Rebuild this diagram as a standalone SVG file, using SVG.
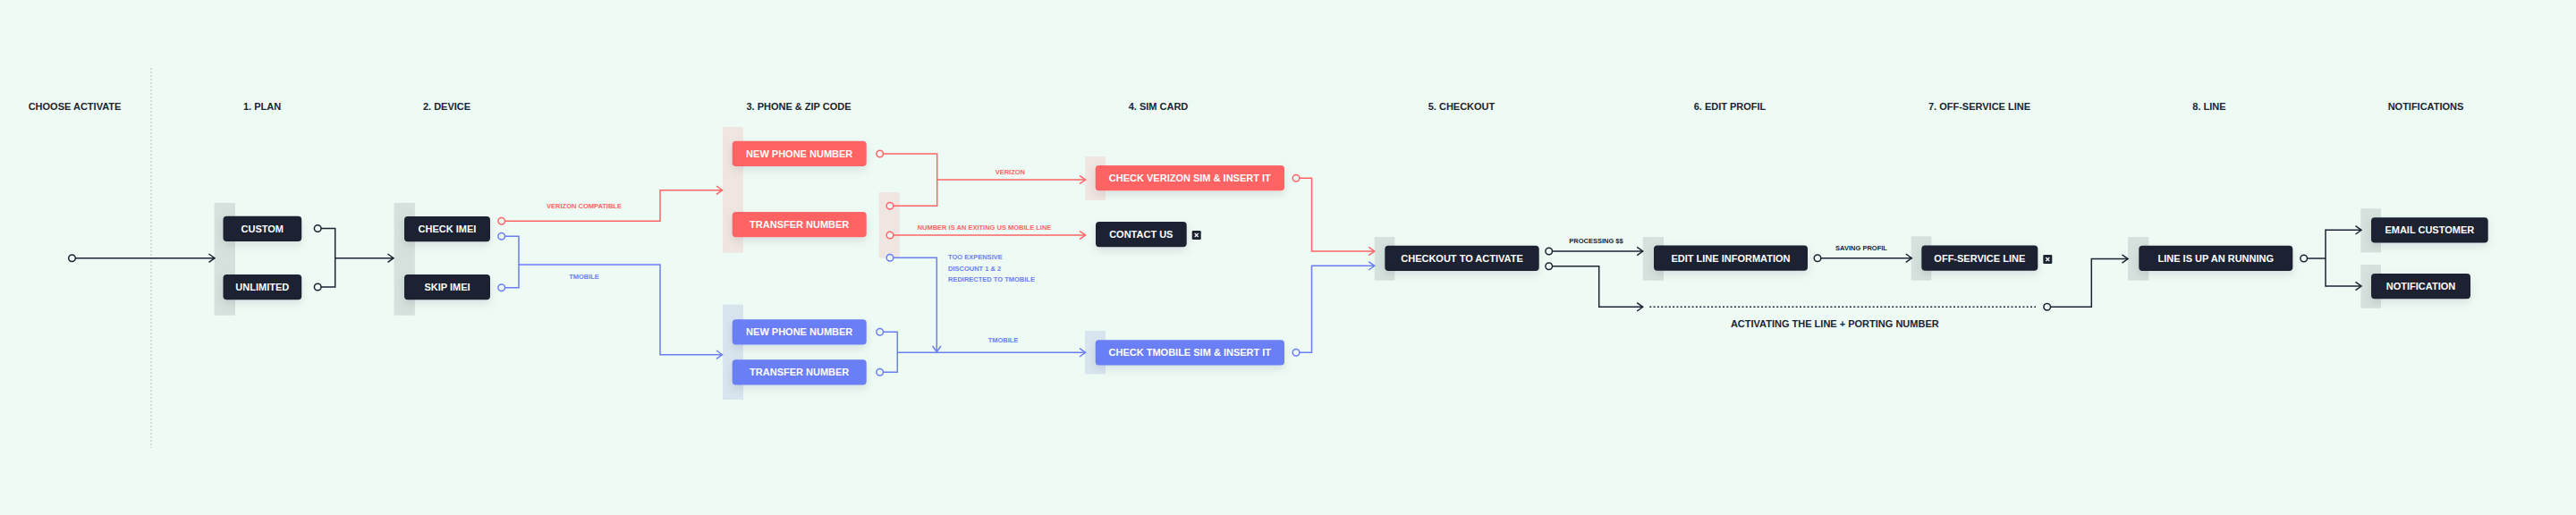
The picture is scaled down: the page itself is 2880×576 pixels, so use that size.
<svg xmlns="http://www.w3.org/2000/svg" width="2880" height="576" viewBox="0 0 2880 576">
<defs>
<style>
.hd{font-family:"Liberation Sans",Arial,sans-serif;font-weight:700;font-size:11px;fill:#1b2433;text-anchor:middle}
.bt{font-family:"Liberation Sans",Arial,sans-serif;font-weight:700;font-size:11px;fill:#ffffff;text-anchor:middle}
.lb{font-family:"Liberation Sans",Arial,sans-serif;font-weight:700;font-size:7.5px}
.lr{fill:#ff6464}.lbl{fill:#6b7ef5}.ld{fill:#1b2433}
.bar{fill:#d5e1dc}.barr{fill:#efe5e1}.barb{fill:#d8e4ee}
.dk{fill:#1b2433}.rd{fill:#ff6464}.bl{fill:#6b7ef5}
.c{fill:none;stroke-width:1.5;stroke-linejoin:miter}
.cd{stroke:#1b2433}.cr{stroke:#ff6464}.cb{stroke:#6b7ef5}
.dot{fill:#eefaf4;stroke-width:1.5}
</style>
<filter id="sh" x="-30%" y="-60%" width="160%" height="260%">
<feDropShadow dx="0" dy="4" stdDeviation="5" flood-color="#1b2433" flood-opacity="0.10"/>
</filter>
<marker id="ad" viewBox="0 0 10 12" refX="8.5" refY="6" markerWidth="10" markerHeight="12" markerUnits="userSpaceOnUse" orient="auto"><path d="M2,1.3 L8.5,6 L2,10.7" fill="none" stroke="#1b2433" stroke-width="1.5"/></marker>
<marker id="ar" viewBox="0 0 10 12" refX="8.5" refY="6" markerWidth="10" markerHeight="12" markerUnits="userSpaceOnUse" orient="auto"><path d="M2,1.3 L8.5,6 L2,10.7" fill="none" stroke="#ff6464" stroke-width="1.5"/></marker>
<marker id="ab" viewBox="0 0 10 12" refX="8.5" refY="6" markerWidth="10" markerHeight="12" markerUnits="userSpaceOnUse" orient="auto"><path d="M2,1.3 L8.5,6 L2,10.7" fill="none" stroke="#6b7ef5" stroke-width="1.5"/></marker>
</defs>
<rect x="0" y="0" width="2880" height="576" fill="#eefaf4"/>
<line x1="169" y1="76" x2="169" y2="501" stroke="#c6d3ce" stroke-width="1.5" stroke-dasharray="2 2"/>

<g id="headers">
<text class="hd" x="83.5" y="122.6">CHOOSE ACTIVATE</text>
<text class="hd" x="293" y="122.6">1. PLAN</text>
<text class="hd" x="499.5" y="122.6">2. DEVICE</text>
<text class="hd" x="893" y="122.6">3. PHONE &amp; ZIP CODE</text>
<text class="hd" x="1295" y="122.6">4. SIM CARD</text>
<text class="hd" x="1634" y="122.6">5. CHECKOUT</text>
<text class="hd" x="1934" y="122.6">6. EDIT PROFIL</text>
<text class="hd" x="2213" y="122.6">7. OFF-SERVICE LINE</text>
<text class="hd" x="2470" y="122.6">8. LINE</text>
<text class="hd" x="2712" y="122.6">NOTIFICATIONS</text>
</g>

<g id="start"><circle class="dot cd" cx="80.5" cy="288.7" r="3.8"/></g>

<g id="plan">
<rect class="bar" x="239.6" y="227" width="23.4" height="125.7"/>
<g id="custom"><rect class="dk" filter="url(#sh)" x="249.5" y="241.7" width="87.7" height="28.3" rx="4"/><text class="bt" x="293.3" y="259.8">CUSTOM</text></g>
<g id="unlimited"><rect class="dk" filter="url(#sh)" x="249.5" y="307" width="87.7" height="28.3" rx="4"/><text class="bt" x="293.3" y="325.1">UNLIMITED</text></g>
</g>

<g id="device">
<rect class="bar" x="440.5" y="227" width="23.4" height="125.7"/>
<g id="check-imei"><rect class="dk" filter="url(#sh)" x="452" y="242" width="96" height="28.3" rx="4"/><text class="bt" x="500" y="260.1">CHECK IMEI</text></g>
<g id="skip-imei"><rect class="dk" filter="url(#sh)" x="452" y="307" width="96" height="28.3" rx="4"/><text class="bt" x="500" y="325.1">SKIP IMEI</text></g>
</g>

<g id="phone-verizon">
<rect class="barr" x="808" y="142" width="23" height="140.7"/>
<g id="new-phone-red"><rect class="rd" filter="url(#sh)" x="818.7" y="157.7" width="150" height="28.3" rx="4"/><text class="bt" x="893.7" y="175.8">NEW PHONE NUMBER</text></g>
<g id="transfer-red"><rect class="rd" filter="url(#sh)" x="818.7" y="237" width="150" height="28.3" rx="4"/><text class="bt" x="893.7" y="255.1">TRANSFER NUMBER</text></g>
</g>

<g id="transfer-outcomes"><rect class="barr" x="982.7" y="215" width="23" height="73.7"/></g>

<g id="phone-tmobile">
<rect class="barb" x="808" y="340.7" width="23" height="106.3"/>
<g id="new-phone-blue"><rect class="bl" filter="url(#sh)" x="818.7" y="357.3" width="150" height="28.3" rx="4"/><text class="bt" x="893.7" y="375.4">NEW PHONE NUMBER</text></g>
<g id="transfer-blue"><rect class="bl" filter="url(#sh)" x="818.7" y="402.3" width="150" height="28.3" rx="4"/><text class="bt" x="893.7" y="420.4">TRANSFER NUMBER</text></g>
</g>

<g id="sim-verizon">
<rect class="barr" x="1213.3" y="175" width="22.7" height="49"/>
<rect class="rd" filter="url(#sh)" x="1224.7" y="185" width="211.3" height="28.3" rx="4"/><text class="bt" x="1330.3" y="203.1">CHECK VERIZON SIM &amp; INSERT IT</text>
</g>

<g id="contact-us">
<rect class="dk" filter="url(#sh)" x="1225" y="248" width="101.7" height="28.3" rx="4"/><text class="bt" x="1275.8" y="266.1">CONTACT US</text>
<rect class="dk" x="1332.7" y="258" width="10" height="10" rx="1"/>
<path d="M1335.7,261 L1339.7,265 M1339.7,261 L1335.7,265" stroke="#ffffff" stroke-width="1.2"/>
</g>

<g id="sim-tmobile">
<rect class="barb" x="1213" y="370" width="23" height="48.3"/>
<rect class="bl" filter="url(#sh)" x="1224.7" y="380.3" width="211.3" height="28.3" rx="4"/><text class="bt" x="1330.3" y="398.4">CHECK TMOBILE SIM &amp; INSERT IT</text>
</g>

<g id="checkout">
<rect class="bar" x="1536.7" y="265" width="22.6" height="48.7"/>
<rect class="dk" filter="url(#sh)" x="1548.3" y="274.7" width="172.4" height="28.3" rx="4"/><text class="bt" x="1634.5" y="292.8">CHECKOUT TO ACTIVATE</text>
</g>

<g id="edit-line">
<rect class="bar" x="1836.7" y="265" width="23.3" height="48.7"/>
<rect class="dk" filter="url(#sh)" x="1849" y="274.5" width="172" height="28.3" rx="4"/><text class="bt" x="1935" y="292.6">EDIT LINE INFORMATION</text>
</g>

<g id="off-service">
<rect class="bar" x="2136.7" y="264.3" width="22.6" height="49.4"/>
<rect class="dk" filter="url(#sh)" x="2148.3" y="274.5" width="130" height="28.3" rx="4"/><text class="bt" x="2213.3" y="292.6">OFF-SERVICE LINE</text>
<rect class="dk" x="2284.3" y="285" width="10" height="10" rx="1"/>
<path d="M2287.3,288 L2291.3,292 M2291.3,288 L2287.3,292" stroke="#ffffff" stroke-width="1.2"/>
</g>

<g id="line-running">
<rect class="bar" x="2379" y="265" width="23.3" height="48.7"/>
<rect class="dk" filter="url(#sh)" x="2391.3" y="274.7" width="172" height="28.3" rx="4"/><text class="bt" x="2477.3" y="292.8">LINE IS UP AN RUNNING</text>
</g>

<g id="email-customer">
<rect class="bar" x="2639.3" y="233.3" width="22.7" height="49"/>
<rect class="dk" filter="url(#sh)" x="2651" y="243.3" width="130.7" height="28.3" rx="4"/><text class="bt" x="2716.3" y="261.4">EMAIL CUSTOMER</text>
</g>

<g id="notification">
<rect class="bar" x="2639.3" y="296" width="22.7" height="48.7"/>
<rect class="dk" filter="url(#sh)" x="2651" y="306" width="111" height="28.3" rx="4"/><text class="bt" x="2706.5" y="324.1">NOTIFICATION</text>
</g>

<g id="connectors">
<path class="c cd" d="M84.3,288.7 H240" marker-end="url(#ad)"/>
<path class="c cd" d="M359,255.5 H374.7 V321 H359 M374.7,288.7 H440" marker-end="url(#ad)"/>
<path class="c cr" d="M564.5,247.3 H738 V212.7 H807.5" marker-end="url(#ar)"/>
<path class="c cb" d="M564.5,264.3 H580 V321.7 H564.5"/>
<path class="c cb" d="M580,296 H738 V396.7 H807.5" marker-end="url(#ab)"/>
<path class="c cr" d="M987.5,172 H1047.7 V230.3 H998.8"/>
<path class="c cr" d="M1047.7,201 H1213.5" marker-end="url(#ar)"/>
<path class="c cr" d="M998.8,263 H1213.5" marker-end="url(#ar)"/>
<path class="c cb" d="M998.8,288.3 H1047.3 V393.5" marker-end="url(#ab)"/>
<path class="c cb" d="M987.5,371.3 H1003.3 V416.3 H987.5"/>
<path class="c cb" d="M1003.3,394.3 H1213.5" marker-end="url(#ab)"/>
<path class="c cr" d="M1452.8,199.3 H1466.5 V281 H1536.7" marker-end="url(#ar)"/>
<path class="c cb" d="M1452.8,394.3 H1466.5 V297.3 H1536.7" marker-end="url(#ab)"/>
<path class="c cd" d="M1735.5,281 H1836.7" marker-end="url(#ad)"/>
<path class="c cd" d="M1735.5,297.7 H1787.7 V343.3 H1836.7" marker-end="url(#ad)"/>
<path class="c cd" d="M1844.3,343.3 H2276" stroke-dasharray="2 2.3"/>
<path class="c cd" d="M2035.8,288.7 H2137.3" marker-end="url(#ad)"/>
<path class="c cd" d="M2292.5,343.3 H2338.3 V289.5 H2379" marker-end="url(#ad)"/>
<path class="c cd" d="M2579.5,289 H2600"/>
<path class="c cd" d="M2600,257.3 H2640" marker-end="url(#ad)"/>
<path class="c cd" d="M2600,256.55 V320.75"/>
<path class="c cd" d="M2600,320 H2640" marker-end="url(#ad)"/>

<circle class="dot cd" cx="355.2" cy="255.5" r="3.8"/>
<circle class="dot cd" cx="355.2" cy="321" r="3.8"/>
<circle class="dot cr" cx="560.7" cy="247.3" r="3.8"/>
<circle class="dot cb" cx="560.7" cy="264.3" r="3.8"/>
<circle class="dot cb" cx="560.7" cy="321.7" r="3.8"/>
<circle class="dot cr" cx="983.7" cy="172" r="3.8"/>
<circle class="dot cr" cx="995" cy="230.3" r="3.8"/>
<circle class="dot cr" cx="995" cy="263" r="3.8"/>
<circle class="dot cb" cx="995" cy="288.3" r="3.8"/>
<circle class="dot cb" cx="983.7" cy="371.3" r="3.8"/>
<circle class="dot cb" cx="983.7" cy="416.3" r="3.8"/>
<circle class="dot cr" cx="1449" cy="199.3" r="3.8"/>
<circle class="dot cb" cx="1449" cy="394.3" r="3.8"/>
<circle class="dot cd" cx="1731.7" cy="281" r="3.8"/>
<circle class="dot cd" cx="1731.7" cy="297.7" r="3.8"/>
<circle class="dot cd" cx="2032" cy="288.7" r="3.8"/>
<circle class="dot cd" cx="2288.7" cy="343.3" r="3.8"/>
<circle class="dot cd" cx="2575.7" cy="289" r="3.8"/>

<text class="lb lr" x="653" y="233.3" text-anchor="middle">VERIZON COMPATIBLE</text>
<text class="lb lbl" x="653" y="311.6" text-anchor="middle">TMOBILE</text>
<text class="lb lr" x="1129.3" y="194.9" text-anchor="middle">VERIZON</text>
<text class="lb lr" x="1100.5" y="256.9" text-anchor="middle">NUMBER IS AN EXITING US MOBILE LINE</text>
<text class="lb lbl" x="1060" y="290.3">TOO EXPENSIVE</text>
<text class="lb lbl" x="1060" y="302.9">DISCOUNT 1 &amp; 2</text>
<text class="lb lbl" x="1060" y="315.3">REDIRECTED TO TMOBILE</text>
<text class="lb lbl" x="1121.5" y="382.6" text-anchor="middle">TMOBILE</text>
<text class="lb ld" x="1784.5" y="272.3" text-anchor="middle">PROCESSING $$</text>
<text class="lb ld" x="2081" y="280.3" text-anchor="middle">SAVING PROFIL</text>
<text class="hd" x="2051.3" y="365.6">ACTIVATING THE LINE + PORTING NUMBER</text>
</g>
</svg>
